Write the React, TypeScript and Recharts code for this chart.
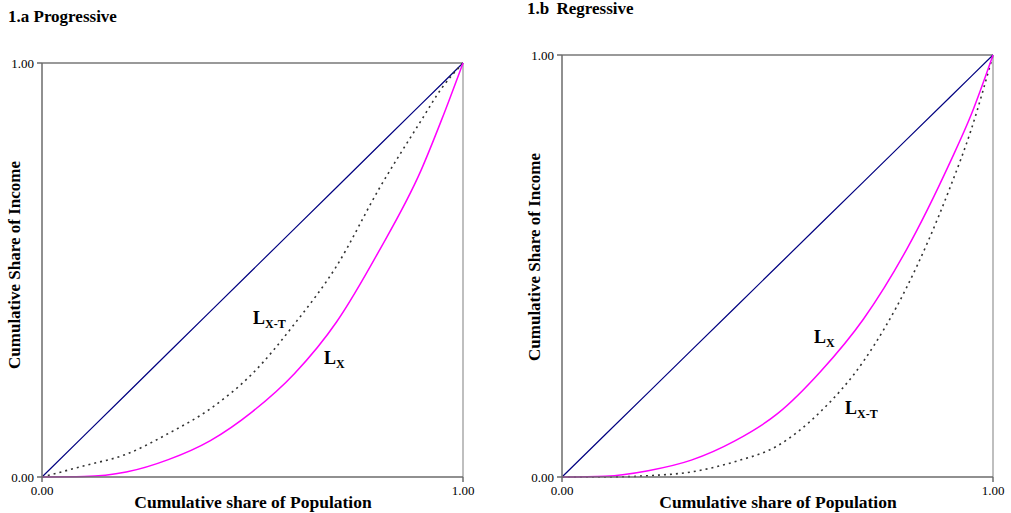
import React from 'react';
import { LineChart, Line, XAxis, YAxis, ReferenceLine } from 'recharts';

const POP = [0, 0.1, 0.2, 0.3, 0.4, 0.5, 0.6, 0.7, 0.8, 0.9, 0.95, 1];
const EQUALITY = [0, 0.1, 0.2, 0.3, 0.4, 0.5, 0.6, 0.7, 0.8, 0.9, 0.95, 1];

// 1.a Progressive
const PROG_LX = [0, 0.001, 0.012, 0.042, 0.088, 0.158, 0.25, 0.375, 0.545, 0.74, 0.865, 1];
const PROG_LXT = [0, 0.027, 0.055, 0.105, 0.165, 0.25, 0.37, 0.51, 0.695, 0.86, 0.94, 1];

// 1.b Regressive
const REG_LX = [0, 0.002, 0.015, 0.04, 0.085, 0.15, 0.25, 0.375, 0.54, 0.745, 0.86, 1];
const REG_LXT = [0, 0, 0.003, 0.012, 0.036, 0.074, 0.155, 0.275, 0.45, 0.685, 0.825, 1];

const TICKS = [0, 1];

const serif = '"Liberation Serif", "DejaVu Serif", serif';

function buildRows(lx: number[], lxt: number[]) {
  return POP.map((p, i) => ({ pop: p, eq: EQUALITY[i], lx: lx[i], lxt: lxt[i] }));
}

const tickStyle = { fill: '#000', fontSize: 13, fontFamily: serif };

function Panel({ rows, width, height, top }: { rows: any[]; width: number; height: number; top: number }) {
  return (
    <LineChart width={width} height={height} data={rows} margin={{ top, right: 17, left: 0, bottom: 0 }}>
      <XAxis
        dataKey="pop"
        type="number"
        domain={[0, 1]}
        ticks={TICKS}
        tickFormatter={(v) => v.toFixed(2)}
        tick={tickStyle}
        stroke="#6b6b6b"
        strokeWidth={1.5}
        tickSize={5}
        tickMargin={4}
        height={36}
      />
      <YAxis
        type="number"
        domain={[0, 1]}
        ticks={TICKS}
        tickFormatter={(v) => v.toFixed(2)}
        tick={tickStyle}
        stroke="#6b6b6b"
        strokeWidth={1.5}
        tickSize={5}
        tickMargin={3}
        width={42}
      />
      <ReferenceLine y={1} stroke="#777" strokeWidth={1.5} />
      <ReferenceLine x={1} stroke="#aaa" strokeWidth={1.5} />
      <Line type="linear" dataKey="eq" stroke="#000080" strokeWidth={1.2} dot={false} isAnimationActive={false} />
      <Line type="monotone" dataKey="lxt" stroke="#333" strokeWidth={1.6} strokeDasharray="2 4" dot={false} isAnimationActive={false} />
      <Line type="monotone" dataKey="lx" stroke="#ff00ff" strokeWidth={1.5} dot={false} isAnimationActive={false} />
    </LineChart>
  );
}

function Lab({ x, y, sub }: { x: number; y: number; sub: string }) {
  return (
    <div style={{ position: 'absolute', left: x, top: y, fontFamily: serif, fontWeight: 'bold', fontSize: 18, lineHeight: '18px', whiteSpace: 'nowrap' }}>
      L<span style={{ fontSize: 12, position: 'relative', top: 4 }}>{sub}</span>
    </div>
  );
}

export default function App() {
  const text: React.CSSProperties = { position: 'absolute', fontFamily: serif, fontWeight: 'bold', whiteSpace: 'nowrap' };
  return (
    <div style={{ position: 'absolute', left: 0, top: 0, width: 1011, height: 513, background: '#fff', overflow: 'hidden' }}>
      <div style={{ ...text, left: 8, top: 8, fontSize: 17, lineHeight: '17px' }}>1.a Progressive</div>
      <div style={{ ...text, left: 527, top: 0, fontSize: 17, lineHeight: '17px', wordSpacing: 3 }}>1.b Regressive</div>

      <div style={{ position: 'absolute', left: 0, top: 0 }}>
        <Panel rows={buildRows(PROG_LX, PROG_LXT)} width={480} height={513} top={63} />
      </div>
      <div style={{ position: 'absolute', left: 520, top: 0 }}>
        <Panel rows={buildRows(REG_LX, REG_LXT)} width={490} height={513} top={55} />
      </div>

      <div style={{ ...text, left: 253, top: 502, fontSize: 17.5, transform: 'translate(-50%, -50%)' }}>Cumulative share of Population</div>
      <div style={{ ...text, left: 778, top: 502, fontSize: 17.5, transform: 'translate(-50%, -50%)' }}>Cumulative share of Population</div>
      <div style={{ ...text, left: 15, top: 265, fontSize: 17, transform: 'translate(-50%, -50%) rotate(-90deg)' }}>Cumulative Share of Income</div>
      <div style={{ ...text, left: 535, top: 257, fontSize: 17, transform: 'translate(-50%, -50%) rotate(-90deg)' }}>Cumulative Share of Income</div>

      <Lab x={253} y={309} sub="X-T" />
      <Lab x={324} y={349} sub="X" />
      <Lab x={814} y={328} sub="X" />
      <Lab x={845} y={399} sub="X-T" />
    </div>
  );
}
